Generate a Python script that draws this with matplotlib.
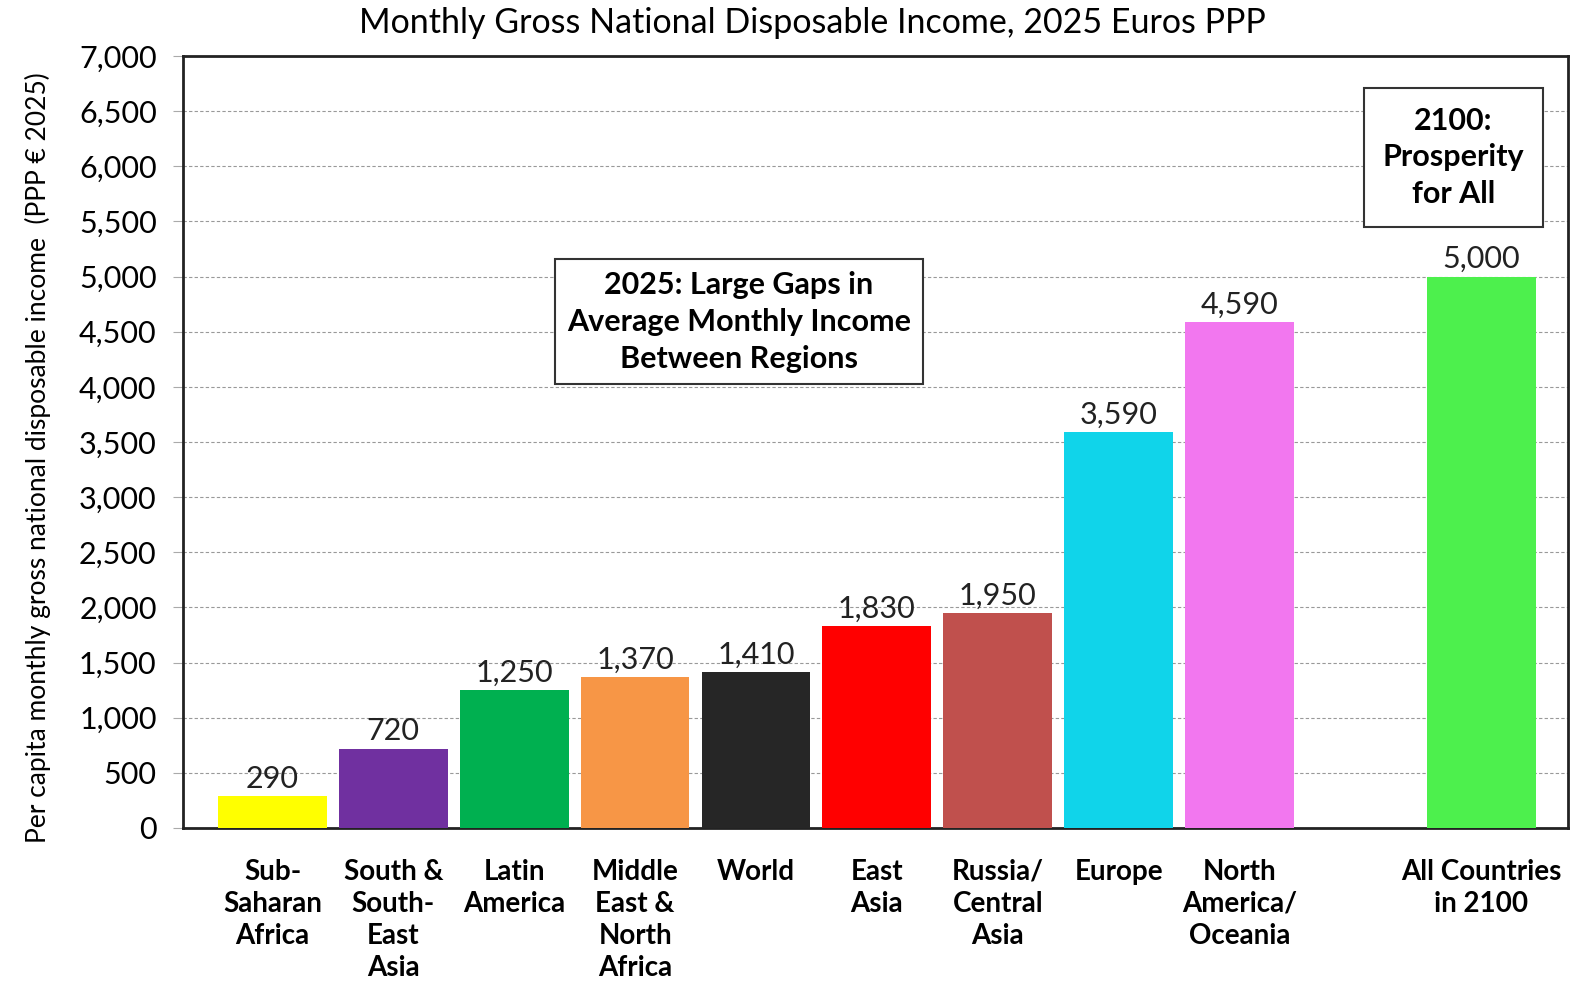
import matplotlib
matplotlib.use('Agg')
import matplotlib.pyplot as plt
from matplotlib.ticker import FuncFormatter

plt.rcParams['font.family'] = ['Lato', 'DejaVu Sans']

# data
regions = ['Sub-\nSaharan\nAfrica', 'South &\nSouth-\nEast\nAsia', 'Latin\nAmerica',
           'Middle\nEast &\nNorth\nAfrica', 'World', 'East\nAsia', 'Russia/\nCentral\nAsia',
           'Europe', 'North\nAmerica/\nOceania', 'All Countries\nin 2100']
income = [290, 720, 1250, 1370, 1410, 1830, 1950, 3590, 4590, 5000]
positions = [0, 1, 2, 3, 4, 5, 6, 7, 8, 10]
colors = ['#FFFF00', '#7030A0', '#00B050', '#F79646', '#262626', '#FF0000',
          '#C0504D', '#10D4EA', '#F277EF', '#4DF04D']

fig = plt.figure(figsize=(15.75, 9.83), dpi=100)
ax = fig.add_axes([0.1162, 0.1577, 0.8795, 0.7853])

bars = ax.bar(positions, income, width=0.9, color=colors, zorder=3)
for x, v in zip(positions, income):
    ax.text(x, v + 30, f'{v:,}', ha='center', va='bottom', fontsize=22, color='#222222')

ax.set_xlim(-0.74, 10.72)
ax.set_ylim(0, 7000)
ax.set_yticks(range(0, 7001, 500))
ax.yaxis.set_major_formatter(FuncFormatter(lambda v, p: f'{int(v):,}'))
ax.set_xticks(positions)
ax.set_xticklabels(regions, fontsize=20, fontweight='bold', va='top', linespacing=1.3)
ax.tick_params(axis='x', length=0, pad=22)
ax.tick_params(axis='y', length=7, width=0.8, color='#aaaaaa', labelsize=22, pad=12)
ax.grid(axis='y', linestyle=(0, (3, 2)), color='#999999', linewidth=0.8, zorder=0)
for s in ax.spines.values():
    s.set_linewidth(2)
    s.set_color('#222222')

ax.set_ylabel('Per capita monthly gross national disposable income  (PPP € 2025)',
              fontsize=19)
ax.yaxis.set_label_coords(-0.095, 0.48)
fig.text(0.516, 0.977, 'Monthly Gross National Disposable Income, 2025 Euros PPP',
         fontsize=24.5, ha='center', va='center')

box = dict(boxstyle='square,pad=0.38', facecolor='white', edgecolor='#333333', linewidth=1.5)
ax.text(3.86, 4590, '2025: Large Gaps in\nAverage Monthly Income\nBetween Regions', ha='center',
        va='center', fontsize=22, fontweight='bold', bbox=box, zorder=5, linespacing=1.38)
ax.text(9.77, 6080, '2100:\nProsperity\nfor All', ha='center', va='center', fontsize=22,
        fontweight='bold', bbox=dict(box, boxstyle='square,pad=0.6'), zorder=5, linespacing=1.38)

fig.savefig('out.png', dpi=100)
